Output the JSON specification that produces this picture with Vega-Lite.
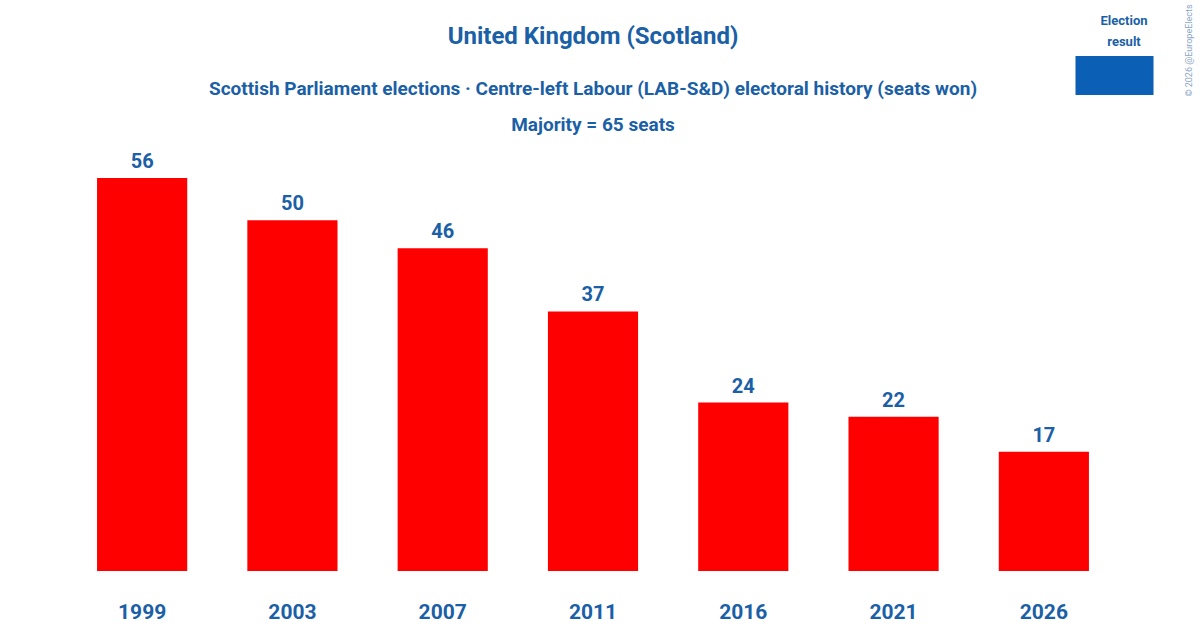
{
  "$schema": "https://vega.github.io/schema/vega-lite/v6.json",
  "width": 1052,
  "height": 421,
  "autosize": "none",
  "padding": {"left": 67, "top": 150, "right": 81, "bottom": 59},
  "background": "white",
  "title": {
    "text": "United Kingdom (Scotland)",
    "subtitle": [
      "Scottish Parliament elections · Centre-left Labour (LAB-S&D) electoral history (seats won)",
      "Majority = 65 seats"
    ],
    "anchor": "middle",
    "fontSize": 24,
    "subtitleFontSize": 19,
    "subtitleLineHeight": 36,
    "subtitlePadding": 31,
    "offset": -131
  },
  "data": {
    "values": [
      {"year": "1999", "seats": 56},
      {"year": "2003", "seats": 50},
      {"year": "2007", "seats": 46},
      {"year": "2011", "seats": 37},
      {"year": "2016", "seats": 24},
      {"year": "2021", "seats": 22},
      {"year": "2026", "seats": 17}
    ]
  },
  "encoding": {
    "x": {
      "field": "year",
      "type": "nominal",
      "sort": null,
      "title": null,
      "scale": {"paddingInner": 0.4, "paddingOuter": 0.2},
      "axis": {
        "labelAngle": 0,
        "labelFontSize": 21,
        "labelPadding": 30,
        "ticks": false,
        "domain": false
      }
    },
    "y": {
      "field": "seats",
      "type": "quantitative",
      "scale": {"domain": [0, 60]},
      "axis": {
        "orient": "right",
        "title": "© 2026 @EuropeElects",
        "titleAngle": -90,
        "titleX": 69,
        "titleY": -100,
        "titleFontSize": 9,
        "titleFontWeight": "normal",
        "titleColor": "#8aa6c6",
        "titleAlign": "center",
        "titleBaseline": "middle",
        "labels": false,
        "ticks": false,
        "domain": false,
        "grid": false
      }
    }
  },
  "layer": [
    {
      "mark": {"type": "bar", "color": "#ff0000"}
    },
    {
      "mark": {"type": "text", "baseline": "bottom", "dy": -6, "fontSize": 20, "fontWeight": "bold", "color": "#1b5fa6"},
      "encoding": {"text": {"field": "seats", "type": "quantitative"}}
    },
    {
      "mark": {"type": "point", "opacity": 0, "filled": true},
      "encoding": {
        "color": {
          "datum": "Election result",
          "scale": {"range": ["#0b5fb4"]},
          "legend": {
            "title": ["Election", "result"],
            "orient": "none",
            "legendX": 1028,
            "legendY": -135,
            "labelExpr": "''",
            "labelOffset": 0,
            "symbolType": "M-2,-1L2,-1L2,1L-2,1Z",
            "symbolSize": 1521,
            "symbolOpacity": 1,
            "symbolStrokeWidth": 0,
            "titleFontSize": 13,
            "titleLineHeight": 21,
            "titleAnchor": "middle",
            "titleAlign": "center",
            "titlePadding": 7
          }
        }
      }
    }
  ],
  "config": {
    "font": "Roboto, sans-serif",
    "view": {"stroke": null},
    "title": {"color": "#1b5fa6", "subtitleColor": "#1b5fa6", "fontWeight": "bold", "subtitleFontWeight": "bold"},
    "axis": {"labelColor": "#1b5fa6", "labelFontWeight": "bold", "grid": false},
    "legend": {"titleColor": "#1b5fa6", "titleFontWeight": "bold"}
  }
}
